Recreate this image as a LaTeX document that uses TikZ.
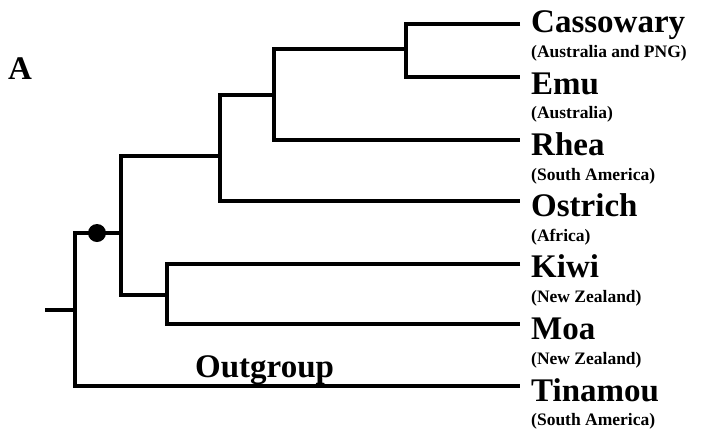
\documentclass[tikz,border=0pt]{standalone}
\usepackage{fontspec}
\setmainfont{Liberation Serif}
\begin{document}
\begin{tikzpicture}[x=1pt,y=-1pt,
  branch/.style={line width=3.7pt, line join=miter},
  taxon/.style={anchor=base west, inner sep=0pt, font=\fontsize{33}{33}\selectfont\bfseries},
  region/.style={anchor=base west, inner sep=0pt, font=\fontsize{17.5}{17.5}\selectfont\bfseries},
  bigtext/.style={anchor=base west, inner sep=0pt, font=\fontsize{33}{33}\selectfont\bfseries}]
\useasboundingbox (0,0) rectangle (703,437);
% tips
\coordinate (tCas) at (520,24);
\coordinate (tEmu) at (520,77);
\coordinate (tRhe) at (520,140);
\coordinate (tOst) at (520,201);
\coordinate (tKiw) at (520,264);
\coordinate (tMoa) at (520,324);
\coordinate (tTin) at (520,386);
% internal nodes
\coordinate (nCE) at (406,49);
\coordinate (nCER) at (274,95);
\coordinate (nCERO) at (220,156);
\coordinate (nKM) at (167,295);
\coordinate (nRat) at (121,233);
\coordinate (root) at (75,310);
\coordinate (stem) at (45,310);
% branches
\draw[branch] (tCas) -| (nCE) |- (tEmu);
\draw[branch] (nCE) -| (nCER) |- (tRhe);
\draw[branch] (nCER) -| (nCERO) |- (tOst);
\draw[branch] (nCERO) -| (nRat) |- (nKM);
\draw[branch] (tKiw) -| (nKM) |- (tMoa);
\draw[branch] (nRat) -| (root) |- (tTin);
\draw[branch] (stem) -- (root);
\node[circle, fill=black, inner sep=0pt, minimum size=18pt] (dot) at (97,233) {};
% labels
\node[taxon] (cas) at (531,32) {Cassowary};
\node[region] (casr) at (531,57) {(Australia and PNG)};
\node[taxon] (emu) at (531,94) {Emu};
\node[region] (emur) at (531,118) {(Australia)};
\node[taxon] (rhe) at (531,155) {Rhea};
\node[region] (rher) at (531,180) {(South America)};
\node[taxon] (ost) at (531,216) {Ostrich};
\node[region] (ostr) at (531,241) {(Africa)};
\node[taxon] (kiw) at (531,277) {Kiwi};
\node[region] (kiwr) at (531,302) {(New Zealand)};
\node[taxon] (moa) at (531,339) {Moa};
\node[region] (moar) at (531,364) {(New Zealand)};
\node[taxon] (tin) at (531,401) {Tinamou};
\node[region] (tinr) at (531,425) {(South America)};
\node[bigtext] (outg) at (195,377) {Outgroup};
\node[bigtext] (lblA) at (8,79) {A};
\end{tikzpicture}
\end{document}
